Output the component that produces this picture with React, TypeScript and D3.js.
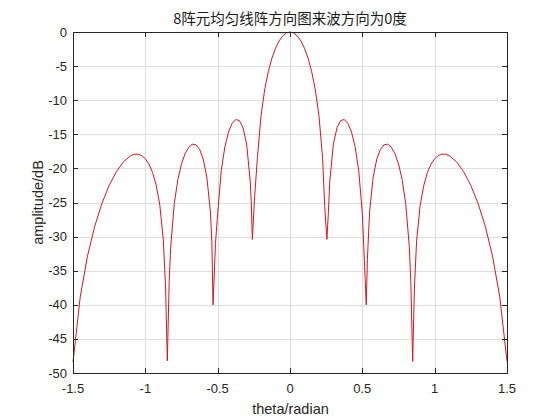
import React from "react";
import * as d3 from "d3";

const titleText = "8阵元均匀线阵方向图来波方向为0度";
const xLabel = "theta/radian";
const yLabel = "amplitude/dB";

const xTicks = [-1.5, -1, -0.5, 0, 0.5, 1, 1.5];
const yTicks = [0, -5, -10, -15, -20, -25, -30, -35, -40, -45, -50];

const theta = [
  -1.5, -1.45, -1.4, -1.35, -1.3, -1.25, -1.2, -1.15, -1.1, -1.075, -1.05, -1.025, -1.0,
  -0.975, -0.95, -0.925, -0.9, -0.875, -0.86, -0.848, -0.835, -0.825, -0.8, -0.775, -0.75,
  -0.725, -0.7, -0.675, -0.65, -0.625, -0.6, -0.575, -0.55, -0.54, -0.532, -0.515, -0.5,
  -0.475, -0.45, -0.425, -0.4, -0.375, -0.35, -0.325, -0.3, -0.275, -0.268, -0.26, -0.245,
  -0.225, -0.2, -0.175, -0.15, -0.125, -0.1, -0.075, -0.05, -0.025, 0,
  0.025, 0.05, 0.075, 0.1, 0.125, 0.15, 0.175, 0.2, 0.225, 0.24, 0.255, 0.265, 0.275,
  0.3, 0.325, 0.35, 0.375, 0.4, 0.425, 0.45, 0.475, 0.5, 0.51, 0.527, 0.535, 0.55,
  0.575, 0.6, 0.625, 0.65, 0.675, 0.7, 0.725, 0.75, 0.775, 0.8, 0.825, 0.835, 0.848,
  0.86, 0.875, 0.9, 0.925, 0.95, 0.975, 1.0, 1.025, 1.05, 1.075, 1.1, 1.15, 1.2, 1.25,
  1.3, 1.35, 1.4, 1.45, 1.5,
];

const amplitude = [
  -48.4, -38.84, -32.87, -28.5, -25.14, -22.5, -20.47, -19.0, -18.12, -17.92, -17.91, -18.12, -18.59,
  -19.37, -20.59, -22.47, -25.36, -30.67, -37.56, -48.2, -36.56, -31.57, -25.16, -21.63, -19.34,
  -17.82, -16.89, -16.45, -16.55, -17.21, -18.63, -21.26, -26.37, -30.9, -40.0, -31.0, -26.61,
  -20.27, -16.81, -14.66, -13.39, -12.83, -12.99, -14.03, -16.41, -21.85, -24.8, -30.4, -24.3,
  -18.37, -12.23, -8.46, -5.81, -3.84, -2.38, -1.3, -0.57, -0.14, 0,
  -0.14, -0.57, -1.3, -2.38, -3.84, -5.81, -8.46, -12.23, -18.37, -25.56, -30.4, -26.63, -21.85,
  -16.41, -14.03, -12.99, -12.83, -13.39, -14.66, -16.81, -20.27, -26.61, -31.48, -40.0, -33.35, -26.37,
  -21.26, -18.63, -17.21, -16.55, -16.45, -16.89, -17.82, -19.34, -21.63, -25.16, -31.57, -36.56, -48.3,
  -37.56, -30.67, -25.36, -22.47, -20.59, -19.37, -18.59, -18.12, -17.91, -17.92, -18.12, -19.0, -20.47, -22.5,
  -25.14, -28.5, -32.87, -38.84, -48.3,
];

const W = 560;
const H = 420;
const left = 73;
const right = 507;
const top = 32;
const bottom = 373;

export default function App() {
  const x = d3.scaleLinear().domain([-1.5, 1.5]).range([left, right]);
  const y = d3.scaleLinear().domain([-50, 0]).range([bottom, top]);
  const pts: [number, number][] = theta.map((t, i) => [t, amplitude[i]]);
  const line = d3
    .line<[number, number]>()
    .x((d) => x(d[0]))
    .y((d) => y(d[1]));
  const axisColor = "#262626";
  const gridColor = "#dedede";
  const tickLen = 5;
  const font = "'Liberation Sans', Arial, sans-serif";

  return (
    <svg
      width={W}
      height={H}
      style={{ position: "absolute", left: 0, top: 0, background: "#fff" }}
    >
      <rect x={0} y={0} width={W} height={H} fill="#fff" />
      {xTicks.slice(1, -1).map((t) => (
        <line
          key={"gx" + t}
          x1={Math.round(x(t)) + 0.5}
          x2={Math.round(x(t)) + 0.5}
          y1={top}
          y2={bottom}
          stroke={gridColor}
          strokeWidth={1}
        />
      ))}
      {yTicks.slice(1, -1).map((t) => (
        <line
          key={"gy" + t}
          x1={left}
          x2={right}
          y1={Math.round(y(t)) + 0.5}
          y2={Math.round(y(t)) + 0.5}
          stroke={gridColor}
          strokeWidth={1}
        />
      ))}
      <path
        d={line(pts) || ""}
        fill="none"
        stroke="#d9141c"
        strokeWidth={1}
        strokeLinejoin="round"
      />
      <rect
        x={left + 0.5}
        y={top + 0.5}
        width={right - left}
        height={bottom - top}
        fill="none"
        stroke={axisColor}
        strokeWidth={1}
      />
      {xTicks.map((t) => {
        const px = Math.round(x(t)) + 0.5;
        return (
          <g key={"tx" + t}>
            <line x1={px} x2={px} y1={bottom} y2={bottom - tickLen} stroke={axisColor} />
            <line x1={px} x2={px} y1={top} y2={top + tickLen} stroke={axisColor} />
            <text
              x={x(t)}
              y={bottom + 19.5}
              textAnchor="middle"
              fontFamily={font}
              fontSize={13}
              fill="#262626"
            >
              {String(t)}
            </text>
          </g>
        );
      })}
      {yTicks.map((t) => {
        const py = Math.round(y(t)) + 0.5;
        return (
          <g key={"ty" + t}>
            <line x1={left} x2={left + tickLen} y1={py} y2={py} stroke={axisColor} />
            <line x1={right} x2={right - tickLen} y1={py} y2={py} stroke={axisColor} />
            <text
              x={left - 6}
              y={y(t) + 4.5}
              textAnchor="end"
              fontFamily={font}
              fontSize={13}
              fill="#262626"
            >
              {String(t)}
            </text>
          </g>
        );
      })}
      <text
        x={(left + right) / 2 + 0.5}
        y={414}
        textAnchor="middle"
        fontFamily={font}
        fontSize={14.5}
        fill="#262626"
      >
        {xLabel}
      </text>
      <text
        transform={`translate(43, ${(top + bottom) / 2}) rotate(-90)`}
        textAnchor="middle"
        fontFamily={font}
        fontSize={14.5}
        fill="#262626"
      >
        {yLabel}
      </text>
      <text
        x={(left + right) / 2}
        y={24}
        textAnchor="middle"
        fontFamily="'Noto Sans CJK SC', sans-serif"
        fontSize={14.5}
        fill="#1a1a1a"
      >
        {titleText}
      </text>
    </svg>
  );
}
